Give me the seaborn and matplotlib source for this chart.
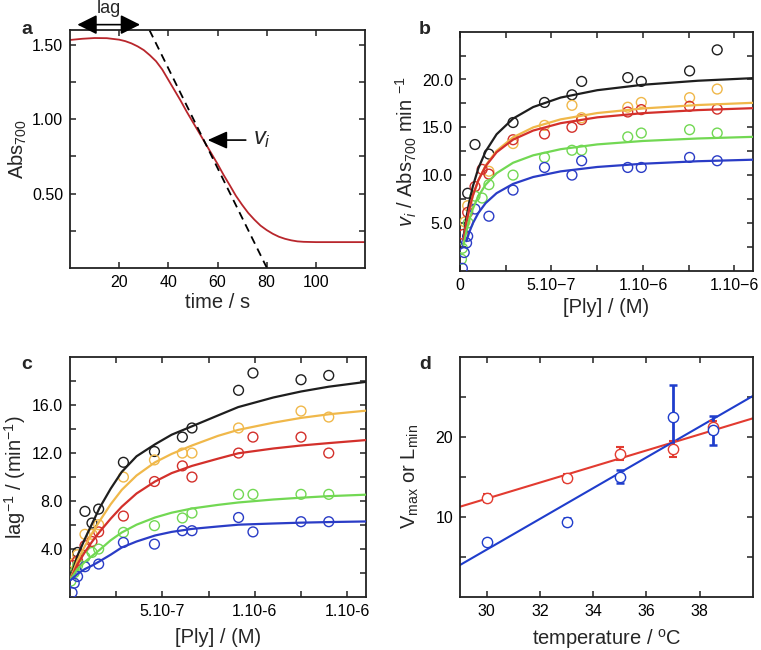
import numpy as np
import pandas as pd
import matplotlib
matplotlib.use("Agg")
import matplotlib.pyplot as plt
import seaborn as sns

# ---------------- data ----------------
# panel a: absorbance trace
time_s = [0, 5, 10, 15, 20, 22.5, 25, 27.5, 30, 32.5, 35, 37.5, 40, 42.5, 45, 47.5, 50, 52.5,
          55, 57.5, 60, 62.5, 65, 67.5, 70, 72.5, 75, 77.5, 80, 82.5, 85, 87.5, 90, 92.5,
          95, 100, 110, 120]
abs700 = [1.533, 1.541, 1.546, 1.545, 1.535, 1.525, 1.51, 1.49, 1.465, 1.43, 1.39, 1.335,
          1.265, 1.195, 1.125, 1.05, 0.98, 0.91, 0.84, 0.77, 0.70, 0.625, 0.556, 0.485,
          0.425, 0.37, 0.325, 0.285, 0.255, 0.23, 0.21, 0.196, 0.186, 0.179, 0.176,
          0.174, 0.174, 0.174]
tangent_t = [32.3, 80.1]
tangent_abs = [1.6, 0.0]

# panel b: v_i vs [Ply]  (x in units of 1e-7 M)
b_black_x = [0.42, 0.82, 1.58, 2.9, 4.62, 6.12, 6.65, 9.17, 9.91, 12.55, 14.06]
b_black_y = [8.1, 13.2, 12.2, 15.5, 17.6, 18.4, 19.8, 20.2, 19.8, 20.9, 23.1]
b_yellow_x = [0.27, 0.42, 1.58, 2.9, 4.62, 6.12, 6.65, 9.17, 9.91, 12.55, 14.06]
b_yellow_y = [5.1, 6.8, 10.4, 13.3, 15.2, 17.3, 16.0, 17.1, 17.6, 18.1, 19.0]
b_red_x = [0.18, 0.42, 0.82, 1.21, 1.58, 2.9, 4.62, 6.12, 6.65, 9.17, 9.91, 12.55, 14.06]
b_red_y = [3.8, 6.1, 8.8, 10.6, 10.1, 13.7, 14.3, 15.0, 15.8, 16.6, 16.85, 17.2, 16.9]
b_green_x = [0.08, 0.13, 0.45, 0.82, 1.21, 1.58, 2.9, 4.62, 6.12, 6.65, 9.17, 9.91, 12.55, 14.06]
b_green_y = [1.2, 2.35, 5.0, 7.8, 7.6, 9.0, 10.0, 11.85, 12.6, 12.6, 14.0, 14.4, 14.75, 14.4]
b_blue_x = [0.13, 0.23, 0.36, 0.42, 0.82, 1.58, 2.9, 4.62, 6.12, 6.65, 9.17, 9.91, 12.55, 14.06]
b_blue_y = [0.25, 1.9, 2.9, 3.6, 6.45, 5.7, 8.43, 10.8, 10.0, 11.5, 10.8, 10.8, 11.85, 11.5]

# panel b: fitted curves
b_fit_x = [0.2, 0.35, 0.5, 0.7, 1.0, 1.4, 2.0, 2.9, 4.0, 5.5, 7.5, 10, 13, 16]
b_fit_black = [3.57, 5.55, 7.13, 8.81, 10.7, 12.48, 14.27, 15.91, 17.12, 18.11, 18.88, 19.45, 19.87, 20.14]
b_fit_yellow = [3.18, 4.94, 6.33, 7.80, 9.45, 11.0, 12.54, 13.95, 14.99, 15.83, 16.49, 16.97, 17.33, 17.56]
b_fit_red = [3.27, 5.03, 6.41, 7.86, 9.45, 10.93, 12.39, 13.71, 14.66, 15.43, 16.04, 16.48, 16.80, 17.0]
b_fit_green = [2.69, 4.14, 5.28, 6.47, 7.78, 9.0, 10.2, 11.29, 12.07, 12.71, 13.21, 13.57, 13.83, 14.0]
b_fit_blue = [None, 3.09, 3.99, 4.95, 6.03, 7.07, 8.11, 9.08, 9.80, 10.39, 10.85, 11.19, 11.45, 11.61]

# panel c: 1/lag vs [Ply]  (x in units of 1e-7 M)
c_black_x = [0.41, 0.81, 1.19, 1.55, 2.89, 4.57, 6.08, 6.6, 9.12, 9.9, 12.5, 14.0]
c_black_y = [3.69, 7.11, 6.14, 7.3, 11.2, 12.1, 13.3, 14.06, 17.2, 18.64, 18.08, 18.44]
c_yellow_x = [0.23, 0.41, 0.81, 1.19, 1.55, 2.89, 4.57, 6.08, 6.6, 9.12, 12.5, 14.0]
c_yellow_y = [2.8, 3.5, 5.2, 5.2, 6.0, 9.97, 11.4, 11.97, 11.97, 14.06, 15.47, 14.97]
c_red_x = [0.16, 0.41, 0.81, 1.19, 1.55, 2.89, 4.57, 6.08, 6.6, 9.12, 9.9, 12.5, 14.0]
c_red_y = [2.6, 3.0, 4.25, 4.6, 5.4, 6.72, 9.6, 10.9, 9.97, 11.97, 13.3, 13.3, 11.97]
c_green_x = [0.05, 0.23, 0.41, 0.81, 1.19, 1.55, 2.89, 4.57, 6.08, 6.6, 9.12, 9.9, 12.5, 14.0]
c_green_y = [1.3, 2.0, 2.6, 3.3, 3.69, 3.97, 5.36, 5.92, 6.56, 6.97, 8.53, 8.53, 8.53, 8.53]
c_blue_x = [0.11, 0.23, 0.41, 0.81, 1.55, 2.89, 4.57, 6.08, 6.6, 9.12, 9.9, 12.5, 14.0]
c_blue_y = [0.34, 1.13, 1.68, 2.5, 2.72, 4.52, 4.38, 5.5, 5.5, 6.6, 5.4, 6.25, 6.25]

c_fit_x = [0.05, 0.4, 0.8, 1.2, 1.6, 2.2, 2.8, 3.6, 4.6, 5.5, 6.6, 8, 9.1, 11, 12.5, 14, 16]
c_fit_black = [1.7, 3.4, 4.8, 6.1, 7.4, 9.0, 10.4, 11.7, 12.7, 13.5, 14.2, 15.1, 15.8, 16.6, 17.1, 17.5, 17.9]
c_fit_yellow = [1.6, 3.0, 4.2, 5.3, 6.3, 7.7, 8.9, 10.1, 11.2, 11.9, 12.6, 13.4, 13.9, 14.5, 14.9, 15.2, 15.5]
c_fit_red = [1.5, 2.7, 3.7, 4.6, 5.4, 6.5, 7.5, 8.6, 9.6, 10.3, 10.9, 11.5, 11.95, 12.35, 12.6, 12.8, 13.05]
c_fit_green = [1.5, 2.3, 2.9, 3.4, 3.9, 4.7, 5.35, 6.0, 6.6, 7.0, 7.35, 7.65, 7.85, 8.1, 8.25, 8.38, 8.5]
c_fit_blue = [1.4, 1.9, 2.3, 2.6, 2.95, 3.5, 4.1, 4.6, 5.1, 5.4, 5.65, 5.85, 6.0, 6.1, 6.17, 6.22, 6.27]

# panel d: Vmax / Lmin vs temperature
d_temp = [30, 33, 35, 37, 38.5]
d_red_y = [12.3, 14.8, 17.9, 18.5, 21.2]
d_red_err = [0.5, 0.5, 0.85, 1.0, 0.8]
d_blue_y = [6.9, 9.4, 15.0, 22.5, 20.8]
d_blue_err = [0.3, 0.4, 0.8, 4.0, 1.8]
d_line_t = [29, 40]
d_red_line = [11.25, 22.3]
d_blue_line = [3.96, 25.1]

# tick labels
b_xtick_labels = ["0", "5.10\u22127", "1.10\u22126", "1.10\u22126"]
c_xtick_labels = ["5.10-7", "1.10-6", "1.10-6"]

COL = {"black": "#1e1e1e", "yellow": "#f0b84a", "red": "#d3302b",
       "green": "#72d853", "blue": "#2a3cc6"}
SERIES = ["black", "yellow", "red", "green", "blue"]

# ---------------- style ----------------
sns.set_theme(style="ticks")
plt.rcParams["font.family"] = ["Liberation Sans", "DejaVu Sans"]
plt.rcParams["mathtext.fontset"] = "custom"
plt.rcParams["mathtext.rm"] = "Liberation Sans"
plt.rcParams["mathtext.it"] = "Liberation Sans:italic"
plt.rcParams["mathtext.bf"] = "Liberation Sans:bold"

W, H = 761, 650
fig = plt.figure(figsize=(W / 100, H / 100), dpi=100)


def add_axes(l, r, t, b):
    return fig.add_axes([l / W, 1 - b / H, (r - l) / W, (b - t) / H])


def style(ax):
    for s in ax.spines.values():
        s.set_linewidth(1.3)
        s.set_color("#222222")
    ax.tick_params(direction="in", length=4.5, width=1.1, top=True, right=True,
                   labelsize=11.5, pad=5, colors="#222222", labelcolor="black")


def set_ticks(ax, axis, positions, labels):
    if axis == "x":
        ax.set_xticks(positions)
        ax.set_xticklabels(labels)
    else:
        ax.set_yticks(positions)
        ax.set_yticklabels(labels)


LABEL_FS = 14.5

# ---------------- panel a ----------------
axa = add_axes(70, 365, 30, 268)
style(axa)
sns.lineplot(x=time_s, y=abs700, color="#b8262c", lw=1.3, ax=axa)
sns.lineplot(x=tangent_t, y=tangent_abs, color="black", lw=1.3, ax=axa,
             linestyle=(0, (4.5, 3)))
axa.set_xlim(0, 120)
axa.set_ylim(0, 1.6)
set_ticks(axa, "x", [20, 40, 60, 80, 100], ["20", "40", "60", "80", "100"])
set_ticks(axa, "y", [0.25, 0.5, 0.75, 1.0, 1.25, 1.5], ["", "0.50", "", "1.00", "", "1.50"])
axa.set_xlabel("time / s", fontsize=LABEL_FS, labelpad=2)
axa.set_ylabel("Abs$_{700}$", fontsize=LABEL_FS, labelpad=2)
axa.annotate("", xy=(3.0, 1.636), xytext=(28.5, 1.636),
             arrowprops=dict(arrowstyle="<|-|>,head_length=1.0,head_width=0.5",
                             lw=1.2, color="black", shrinkA=0, shrinkB=0),
             annotation_clip=False)
axa.text(16, 1.745, "lag", fontsize=13, ha="center", va="center", clip_on=False)
axa.annotate("", xy=(56.0, 0.86), xytext=(71.5, 0.86),
             arrowprops=dict(arrowstyle="-|>,head_length=1.0,head_width=0.45",
                             lw=1.2, color="black", shrinkA=0, shrinkB=0))
axa.text(74.5, 0.865, "$v_i$", fontsize=17, ha="left", va="center")

# ---------------- panel b ----------------
axb = add_axes(460, 752.7, 31.7, 270.7)
style(axb)
b_fits = {"black": b_fit_black, "yellow": b_fit_yellow, "red": b_fit_red,
          "green": b_fit_green, "blue": b_fit_blue}
b_pts = {"black": (b_black_x, b_black_y), "yellow": (b_yellow_x, b_yellow_y),
         "red": (b_red_x, b_red_y), "green": (b_green_x, b_green_y),
         "blue": (b_blue_x, b_blue_y)}
for name in SERIES:
    xs, ys = b_pts[name]
    sns.scatterplot(x=np.array(xs) * 1e-7, y=ys, marker="o", s=50, color=COL[name],
                    facecolors="none", edgecolor=COL[name], linewidth=1.0, ax=axb, zorder=3)
for name in SERIES:
    df = pd.DataFrame({"x": np.array(b_fit_x) * 1e-7, "y": b_fits[name]}).dropna()
    sns.lineplot(data=df, x="x", y="y", color=COL[name], lw=1.6, ax=axb, zorder=4)
axb.set_xlim(0, 1.6e-6)
axb.set_ylim(0, 25)
set_ticks(axb, "x", [0, 2.5e-7, 5e-7, 7.5e-7, 1e-6, 1.25e-6, 1.5e-6],
          [b_xtick_labels[0], "", b_xtick_labels[1], "", b_xtick_labels[2], "", b_xtick_labels[3]])
set_ticks(axb, "y", [2.5, 5, 7.5, 10, 12.5, 15, 17.5, 20, 22.5],
          ["", "5.0", "", "10.0", "", "15.0", "", "20.0", ""])
axb.set_xlabel("[Ply] / (M)", fontsize=LABEL_FS, labelpad=4)
axb.set_ylabel("$v_i$ / Abs$_{700}$ min $^{-1}$", fontsize=LABEL_FS, labelpad=2)

# ---------------- panel c ----------------
axc = add_axes(70, 365.7, 356.7, 596.7)
style(axc)
c_fits = {"black": c_fit_black, "yellow": c_fit_yellow, "red": c_fit_red,
          "green": c_fit_green, "blue": c_fit_blue}
c_pts = {"black": (c_black_x, c_black_y), "yellow": (c_yellow_x, c_yellow_y),
         "red": (c_red_x, c_red_y), "green": (c_green_x, c_green_y),
         "blue": (c_blue_x, c_blue_y)}
for name in SERIES:
    xs, ys = c_pts[name]
    sns.scatterplot(x=np.array(xs) * 1e-7, y=ys, marker="o", s=50, color=COL[name],
                    facecolors="none", edgecolor=COL[name], linewidth=1.0, ax=axc, zorder=3)
for name in SERIES:
    sns.lineplot(x=np.array(c_fit_x) * 1e-7, y=c_fits[name], color=COL[name], lw=1.6,
                 ax=axc, zorder=4)
axc.set_xlim(0, 1.6e-6)
axc.set_ylim(0, 20)
set_ticks(axc, "x", [2.5e-7, 5e-7, 7.5e-7, 1e-6, 1.25e-6, 1.5e-6],
          ["", c_xtick_labels[0], "", c_xtick_labels[1], "", c_xtick_labels[2]])
set_ticks(axc, "y", [2, 4, 6, 8, 10, 12, 14, 16, 18],
          ["", "4.0", "", "8.0", "", "12.0", "", "16.0", ""])
axc.set_xlabel("[Ply] / (M)", fontsize=LABEL_FS, labelpad=7)
axc.set_ylabel("lag$^{-1}$ / (min$^{-1}$)", fontsize=LABEL_FS, labelpad=3)

# ---------------- panel d ----------------
axd = add_axes(460, 753, 356.7, 596.7)
style(axd)
D_RED, D_BLUE = "#e23b30", "#1f3dcc"
sns.lineplot(x=d_line_t, y=d_red_line, color=D_RED, lw=1.5, ax=axd)
sns.lineplot(x=d_line_t, y=d_blue_line, color=D_BLUE, lw=1.5, ax=axd)
axd.errorbar(d_temp, d_red_y, yerr=d_red_err, fmt="none", ecolor=D_RED, elinewidth=1.5,
             capsize=3.2, capthick=1.5, zorder=3)
axd.errorbar(d_temp, d_blue_y, yerr=d_blue_err, fmt="none", ecolor=D_BLUE, elinewidth=2.0,
             capsize=3.2, capthick=1.8, zorder=3)
sns.scatterplot(x=d_temp, y=d_red_y, marker="o", s=55, color=D_RED, facecolors="white",
                edgecolor=D_RED, linewidth=1.0, ax=axd, zorder=4)
sns.scatterplot(x=d_temp, y=d_blue_y, marker="o", s=55, color=D_BLUE, facecolors="white",
                edgecolor=D_BLUE, linewidth=1.0, ax=axd, zorder=4)
axd.set_xlim(29, 40)
axd.set_ylim(0, 30)
set_ticks(axd, "x", [30, 32, 34, 36, 38], ["30", "32", "34", "36", "38"])
set_ticks(axd, "y", [5, 10, 15, 20, 25], ["", "10", "", "20", ""])
axd.set_xlabel("temperature / $^{\\mathrm{o}}$C", fontsize=LABEL_FS, labelpad=6)
axd.set_ylabel("V$_{\\mathrm{max}}$ or L$_{\\mathrm{min}}$", fontsize=LABEL_FS, labelpad=10)

# panel letters
for txt, x, y in [("a", 27, 30), ("b", 425, 29), ("c", 27, 364), ("d", 425, 364)]:
    fig.text(x / W, 1 - y / H, txt, fontsize=14, fontweight="bold", ha="center", va="center")

fig.savefig("out.png", dpi=100)
